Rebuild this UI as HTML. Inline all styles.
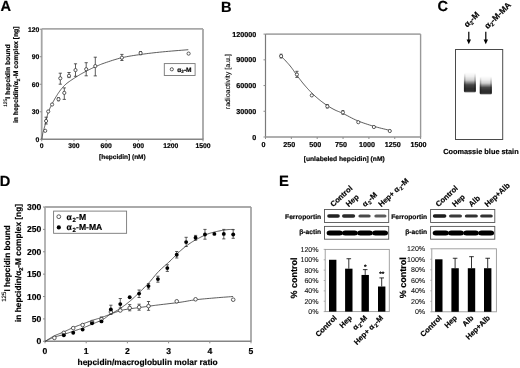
<!DOCTYPE html>
<html><head><meta charset="utf-8"><style>
html,body{margin:0;padding:0;background:#fff;}
svg{display:block;font-family:'Liberation Sans', sans-serif;text-rendering:geometricPrecision;filter:blur(0.3px);}
text{stroke:#000;stroke-width:0.18px;}
text.reg{stroke:#000;stroke-width:0.1px;}
</style></head><body>
<svg width="520" height="368" viewBox="0 0 520 368">
<defs><filter id="b05" x="-20%" y="-50%" width="140%" height="200%"><feGaussianBlur stdDeviation="0.5"/></filter>
<filter id="b07" x="-20%" y="-20%" width="140%" height="140%"><feGaussianBlur stdDeviation="0.7"/></filter></defs>
<rect width="520" height="368" fill="#fff"/>
<text x="0.60" y="10.50" font-size="14.6" font-weight="bold" text-anchor="start" fill="#000">A</text>
<line x1="41.70" y1="28.90" x2="203.00" y2="28.90" stroke="#a8a8a8" stroke-width="1.8"/>
<line x1="41.70" y1="28.90" x2="41.70" y2="139.30" stroke="#a5a5a5" stroke-width="1.8"/>
<line x1="203.00" y1="28.90" x2="203.00" y2="139.30" stroke="#a5a5a5" stroke-width="1.8"/>
<line x1="41.20" y1="139.30" x2="203.50" y2="139.30" stroke="#858585" stroke-width="1.4"/>
<line x1="39.70" y1="139.30" x2="41.70" y2="139.30" stroke="#8c8c8c" stroke-width="1.0"/>
<text x="39.40" y="141.70" font-size="6.8" font-weight="bold" text-anchor="end" fill="#000">0</text>
<line x1="39.70" y1="111.78" x2="41.70" y2="111.78" stroke="#8c8c8c" stroke-width="1.0"/>
<text x="39.40" y="114.18" font-size="6.8" font-weight="bold" text-anchor="end" fill="#000">30</text>
<line x1="39.70" y1="84.25" x2="41.70" y2="84.25" stroke="#8c8c8c" stroke-width="1.0"/>
<text x="39.40" y="86.65" font-size="6.8" font-weight="bold" text-anchor="end" fill="#000">60</text>
<line x1="39.70" y1="56.73" x2="41.70" y2="56.73" stroke="#8c8c8c" stroke-width="1.0"/>
<text x="39.40" y="59.13" font-size="6.8" font-weight="bold" text-anchor="end" fill="#000">90</text>
<line x1="39.70" y1="29.20" x2="41.70" y2="29.20" stroke="#8c8c8c" stroke-width="1.0"/>
<text x="39.40" y="31.60" font-size="6.8" font-weight="bold" text-anchor="end" fill="#000">120</text>
<line x1="41.70" y1="139.30" x2="41.70" y2="141.30" stroke="#8c8c8c" stroke-width="1.0"/>
<text x="41.70" y="148.40" font-size="6.8" font-weight="bold" text-anchor="middle" fill="#000">0</text>
<line x1="73.96" y1="139.30" x2="73.96" y2="141.30" stroke="#8c8c8c" stroke-width="1.0"/>
<text x="73.96" y="148.40" font-size="6.8" font-weight="bold" text-anchor="middle" fill="#000">300</text>
<line x1="106.22" y1="139.30" x2="106.22" y2="141.30" stroke="#8c8c8c" stroke-width="1.0"/>
<text x="106.22" y="148.40" font-size="6.8" font-weight="bold" text-anchor="middle" fill="#000">600</text>
<line x1="138.48" y1="139.30" x2="138.48" y2="141.30" stroke="#8c8c8c" stroke-width="1.0"/>
<text x="138.48" y="148.40" font-size="6.8" font-weight="bold" text-anchor="middle" fill="#000">900</text>
<line x1="170.74" y1="139.30" x2="170.74" y2="141.30" stroke="#8c8c8c" stroke-width="1.0"/>
<text x="170.74" y="148.40" font-size="6.8" font-weight="bold" text-anchor="middle" fill="#000">1200</text>
<line x1="203.00" y1="139.30" x2="203.00" y2="141.30" stroke="#8c8c8c" stroke-width="1.0"/>
<text x="203.00" y="148.40" font-size="6.8" font-weight="bold" text-anchor="middle" fill="#000">1500</text>
<text x="122.40" y="159.20" font-size="6.5" font-weight="bold" text-anchor="middle" fill="#000">[hepcidin] (nM)</text>
<text transform="translate(9.9 75.6) rotate(-90)" font-size="6.8" font-weight="bold" text-anchor="middle"><tspan font-size="4.9" font-weight="normal" dy="-3.0" style="stroke-width:0.1px">125</tspan><tspan dy="3.0">I hepcidin bound</tspan></text>
<text transform="translate(18.3 74.8) rotate(-90)" font-size="6.8" font-weight="bold" text-anchor="middle">in hepcidin/α<tspan font-size="4.6" dy="1.6">2</tspan><tspan dy="-1.6">-M complex [ng]</tspan></text>
<polyline points="41.80,139.20 41.95,138.36 42.08,137.53 42.22,136.69 42.36,135.86 42.50,135.02 42.65,134.18 42.82,133.34 43.00,132.50 43.19,131.70 43.39,130.95 43.60,130.23 43.82,129.50 44.05,128.72 44.31,127.85 44.59,126.85 44.90,125.70 45.24,124.34 45.61,122.77 46.00,121.06 46.42,119.28 46.85,117.48 47.29,115.73 47.74,114.08 48.20,112.60 48.67,111.28 49.15,110.04 49.64,108.89 50.15,107.79 50.66,106.74 51.18,105.72 51.69,104.71 52.20,103.70 52.70,102.70 53.20,101.74 53.70,100.80 54.19,99.89 54.70,98.99 55.22,98.09 55.75,97.20 56.30,96.30 56.87,95.39 57.45,94.48 58.04,93.56 58.65,92.66 59.27,91.76 59.90,90.88 60.54,90.03 61.20,89.20 61.84,88.41 62.46,87.67 63.08,86.95 63.71,86.24 64.39,85.54 65.13,84.82 65.96,84.08 66.90,83.30 67.98,82.46 69.19,81.58 70.49,80.67 71.86,79.74 73.25,78.83 74.62,77.94 75.95,77.09 77.20,76.30 78.37,75.58 79.50,74.90 80.60,74.25 81.68,73.64 82.75,73.04 83.82,72.46 84.90,71.88 86.00,71.30 87.11,70.72 88.22,70.15 89.33,69.58 90.45,69.03 91.57,68.49 92.70,67.95 93.84,67.42 95.00,66.90 96.12,66.40 97.18,65.92 98.22,65.46 99.28,65.01 100.41,64.54 101.64,64.06 103.03,63.55 104.60,63.00 106.38,62.39 108.34,61.73 110.44,61.03 112.64,60.31 114.93,59.60 117.25,58.92 119.59,58.28 121.90,57.70 124.20,57.19 126.54,56.72 128.91,56.28 131.31,55.88 133.74,55.49 136.20,55.12 138.69,54.76 141.20,54.40 143.72,54.05 146.23,53.71 148.77,53.39 151.33,53.08 153.95,52.78 156.64,52.49 159.42,52.19 162.30,51.90 165.32,51.61 168.46,51.33 171.69,51.05 174.99,50.78 178.33,50.51 181.69,50.24 185.02,49.97 188.30,49.70" fill="none" stroke="#333" stroke-width="0.8" stroke-linejoin="round"/>
<line x1="140.60" y1="51.50" x2="140.60" y2="54.70" stroke="#333" stroke-width="0.8"/>
<line x1="139.20" y1="51.50" x2="142.00" y2="51.50" stroke="#333" stroke-width="0.8"/>
<line x1="139.20" y1="54.70" x2="142.00" y2="54.70" stroke="#333" stroke-width="0.8"/>
<line x1="58.50" y1="97.60" x2="58.50" y2="100.80" stroke="#333" stroke-width="0.8"/>
<line x1="57.10" y1="97.60" x2="59.90" y2="97.60" stroke="#333" stroke-width="0.8"/>
<line x1="57.10" y1="100.80" x2="59.90" y2="100.80" stroke="#333" stroke-width="0.8"/>
<line x1="46.10" y1="117.20" x2="46.10" y2="124.00" stroke="#333" stroke-width="0.8"/>
<line x1="44.50" y1="117.20" x2="47.70" y2="117.20" stroke="#333" stroke-width="0.8"/>
<line x1="44.50" y1="124.00" x2="47.70" y2="124.00" stroke="#333" stroke-width="0.8"/>
<line x1="64.30" y1="87.90" x2="64.30" y2="99.40" stroke="#333" stroke-width="0.8"/>
<line x1="62.70" y1="87.90" x2="65.90" y2="87.90" stroke="#333" stroke-width="0.8"/>
<line x1="62.70" y1="99.40" x2="65.90" y2="99.40" stroke="#333" stroke-width="0.8"/>
<line x1="60.30" y1="73.20" x2="60.30" y2="84.20" stroke="#333" stroke-width="0.8"/>
<line x1="58.70" y1="73.20" x2="61.90" y2="73.20" stroke="#333" stroke-width="0.8"/>
<line x1="58.70" y1="84.20" x2="61.90" y2="84.20" stroke="#333" stroke-width="0.8"/>
<line x1="69.00" y1="72.50" x2="69.00" y2="77.60" stroke="#333" stroke-width="0.8"/>
<line x1="67.40" y1="72.50" x2="70.60" y2="72.50" stroke="#333" stroke-width="0.8"/>
<line x1="67.40" y1="77.60" x2="70.60" y2="77.60" stroke="#333" stroke-width="0.8"/>
<line x1="75.50" y1="63.80" x2="75.50" y2="76.30" stroke="#333" stroke-width="0.8"/>
<line x1="73.90" y1="63.80" x2="77.10" y2="63.80" stroke="#333" stroke-width="0.8"/>
<line x1="73.90" y1="76.30" x2="77.10" y2="76.30" stroke="#333" stroke-width="0.8"/>
<line x1="86.20" y1="62.70" x2="86.20" y2="75.80" stroke="#333" stroke-width="0.8"/>
<line x1="84.60" y1="62.70" x2="87.80" y2="62.70" stroke="#333" stroke-width="0.8"/>
<line x1="84.60" y1="75.80" x2="87.80" y2="75.80" stroke="#333" stroke-width="0.8"/>
<line x1="95.30" y1="57.20" x2="95.30" y2="75.90" stroke="#333" stroke-width="0.8"/>
<line x1="93.70" y1="57.20" x2="96.90" y2="57.20" stroke="#333" stroke-width="0.8"/>
<line x1="93.70" y1="75.90" x2="96.90" y2="75.90" stroke="#333" stroke-width="0.8"/>
<line x1="121.90" y1="54.40" x2="121.90" y2="60.50" stroke="#333" stroke-width="0.8"/>
<line x1="120.30" y1="54.40" x2="123.50" y2="54.40" stroke="#333" stroke-width="0.8"/>
<line x1="120.30" y1="60.50" x2="123.50" y2="60.50" stroke="#333" stroke-width="0.8"/>
<circle cx="45.20" cy="130.80" r="1.6" fill="#fff" stroke="#333" stroke-width="0.8"/>
<circle cx="46.10" cy="121.00" r="1.6" fill="#fff" stroke="#333" stroke-width="0.8"/>
<circle cx="48.20" cy="111.50" r="1.6" fill="#fff" stroke="#333" stroke-width="0.8"/>
<circle cx="52.10" cy="104.50" r="1.6" fill="#fff" stroke="#333" stroke-width="0.8"/>
<circle cx="58.50" cy="99.20" r="1.6" fill="#fff" stroke="#333" stroke-width="0.8"/>
<circle cx="64.30" cy="92.90" r="1.6" fill="#fff" stroke="#333" stroke-width="0.8"/>
<circle cx="60.30" cy="78.30" r="1.6" fill="#fff" stroke="#333" stroke-width="0.8"/>
<circle cx="69.00" cy="75.80" r="1.6" fill="#fff" stroke="#333" stroke-width="0.8"/>
<circle cx="75.50" cy="70.10" r="1.6" fill="#fff" stroke="#333" stroke-width="0.8"/>
<circle cx="86.20" cy="69.20" r="1.6" fill="#fff" stroke="#333" stroke-width="0.8"/>
<circle cx="95.30" cy="66.10" r="1.6" fill="#fff" stroke="#333" stroke-width="0.8"/>
<circle cx="121.90" cy="57.70" r="1.6" fill="#fff" stroke="#333" stroke-width="0.8"/>
<circle cx="140.60" cy="53.10" r="1.6" fill="#fff" stroke="#333" stroke-width="0.8"/>
<circle cx="188.60" cy="53.60" r="1.6" fill="#fff" stroke="#333" stroke-width="0.8"/>
<rect x="164.30" y="63.60" width="30.80" height="11.90" stroke="#777" stroke-width="0.9" fill="none"/>
<circle cx="171.80" cy="69.30" r="1.6" fill="#fff" stroke="#333" stroke-width="0.8"/>
<text x="177.3" y="71.8" font-size="6.6" font-weight="bold">α<tspan font-size="4.6" dy="1.5">2</tspan><tspan dy="-1.5">-M</tspan></text>
<text x="221.00" y="11.50" font-size="14.6" font-weight="bold" text-anchor="start" fill="#000">B</text>
<line x1="265.50" y1="34.10" x2="420.60" y2="34.10" stroke="#aaa" stroke-width="1.8"/>
<line x1="265.50" y1="34.10" x2="265.50" y2="137.00" stroke="#7a7a7a" stroke-width="1.2"/>
<line x1="420.60" y1="34.10" x2="420.60" y2="137.00" stroke="#999" stroke-width="1.4"/>
<line x1="265.00" y1="137.00" x2="421.10" y2="137.00" stroke="#959595" stroke-width="1.4"/>
<line x1="263.50" y1="137.00" x2="265.50" y2="137.00" stroke="#8c8c8c" stroke-width="1.0"/>
<text x="256.30" y="139.50" font-size="7.2" font-weight="bold" text-anchor="end" fill="#000">0</text>
<line x1="263.50" y1="111.28" x2="265.50" y2="111.28" stroke="#8c8c8c" stroke-width="1.0"/>
<text x="256.30" y="113.78" font-size="7.2" font-weight="bold" text-anchor="end" fill="#000">30000</text>
<line x1="263.50" y1="85.55" x2="265.50" y2="85.55" stroke="#8c8c8c" stroke-width="1.0"/>
<text x="256.30" y="88.05" font-size="7.2" font-weight="bold" text-anchor="end" fill="#000">60000</text>
<line x1="263.50" y1="59.83" x2="265.50" y2="59.83" stroke="#8c8c8c" stroke-width="1.0"/>
<text x="256.30" y="62.33" font-size="7.2" font-weight="bold" text-anchor="end" fill="#000">90000</text>
<line x1="263.50" y1="34.10" x2="265.50" y2="34.10" stroke="#8c8c8c" stroke-width="1.0"/>
<text x="256.30" y="36.60" font-size="7.2" font-weight="bold" text-anchor="end" fill="#000">120000</text>
<line x1="265.50" y1="137.00" x2="265.50" y2="139.00" stroke="#8c8c8c" stroke-width="1.0"/>
<text x="263.50" y="146.70" font-size="7.2" font-weight="bold" text-anchor="middle" fill="#000">0</text>
<line x1="291.35" y1="137.00" x2="291.35" y2="139.00" stroke="#8c8c8c" stroke-width="1.0"/>
<text x="289.35" y="146.70" font-size="7.2" font-weight="bold" text-anchor="middle" fill="#000">250</text>
<line x1="317.20" y1="137.00" x2="317.20" y2="139.00" stroke="#8c8c8c" stroke-width="1.0"/>
<text x="315.20" y="146.70" font-size="7.2" font-weight="bold" text-anchor="middle" fill="#000">500</text>
<line x1="343.05" y1="137.00" x2="343.05" y2="139.00" stroke="#8c8c8c" stroke-width="1.0"/>
<text x="341.05" y="146.70" font-size="7.2" font-weight="bold" text-anchor="middle" fill="#000">750</text>
<line x1="368.90" y1="137.00" x2="368.90" y2="139.00" stroke="#8c8c8c" stroke-width="1.0"/>
<text x="366.90" y="146.70" font-size="7.2" font-weight="bold" text-anchor="middle" fill="#000">1000</text>
<line x1="394.75" y1="137.00" x2="394.75" y2="139.00" stroke="#8c8c8c" stroke-width="1.0"/>
<text x="392.75" y="146.70" font-size="7.2" font-weight="bold" text-anchor="middle" fill="#000">1250</text>
<line x1="420.60" y1="137.00" x2="420.60" y2="139.00" stroke="#8c8c8c" stroke-width="1.0"/>
<text x="418.60" y="146.70" font-size="7.2" font-weight="bold" text-anchor="middle" fill="#000">1500</text>
<text x="344.20" y="160.50" font-size="6.7" font-weight="bold" text-anchor="middle" fill="#000">[unlabeled hepcidin] (nM)</text>
<text class="reg" transform="translate(230.2 81.6) rotate(-90)" font-size="7.1" text-anchor="middle">radioactivity [a.u.]</text>
<polyline points="281.10,56.00 282.25,57.25 283.43,58.52 284.62,59.78 285.80,61.04 286.96,62.30 288.09,63.55 289.18,64.78 290.20,66.00 291.15,67.20 292.04,68.39 292.89,69.57 293.70,70.73 294.49,71.89 295.28,73.03 296.08,74.17 296.90,75.30 297.73,76.42 298.55,77.52 299.37,78.62 300.19,79.71 301.02,80.79 301.86,81.86 302.72,82.93 303.60,84.00 304.51,85.07 305.44,86.16 306.38,87.24 307.34,88.31 308.31,89.37 309.28,90.41 310.24,91.42 311.20,92.40 312.15,93.34 313.09,94.25 314.02,95.13 314.96,95.99 315.91,96.84 316.86,97.67 317.82,98.49 318.80,99.30 319.80,100.11 320.81,100.92 321.84,101.71 322.88,102.49 323.91,103.26 324.95,104.00 325.98,104.71 327.00,105.40 328.01,106.05 329.02,106.68 330.02,107.29 331.02,107.87 332.02,108.43 333.01,108.97 334.01,109.49 335.00,110.00 335.95,110.46 336.83,110.85 337.69,111.20 338.56,111.54 339.47,111.90 340.48,112.31 341.61,112.80 342.90,113.40 344.37,114.13 345.98,114.97 347.71,115.89 349.52,116.86 351.41,117.85 353.33,118.82 355.27,119.75 357.20,120.60 359.14,121.39 361.13,122.15 363.17,122.88 365.23,123.59 367.30,124.27 369.38,124.94 371.45,125.58 373.50,126.20 375.54,126.79 377.57,127.35 379.61,127.88 381.65,128.39 383.69,128.89 385.73,129.38 387.76,129.88 389.80,130.40" fill="none" stroke="#333" stroke-width="0.8" stroke-linejoin="round"/>
<line x1="296.90" y1="71.30" x2="296.90" y2="77.40" stroke="#333" stroke-width="0.8"/>
<line x1="295.30" y1="71.30" x2="298.50" y2="71.30" stroke="#333" stroke-width="0.8"/>
<line x1="295.30" y1="77.40" x2="298.50" y2="77.40" stroke="#333" stroke-width="0.8"/>
<line x1="281.10" y1="54.20" x2="281.10" y2="58.00" stroke="#333" stroke-width="0.8"/>
<line x1="279.70" y1="54.20" x2="282.50" y2="54.20" stroke="#333" stroke-width="0.8"/>
<line x1="279.70" y1="58.00" x2="282.50" y2="58.00" stroke="#333" stroke-width="0.8"/>
<line x1="342.90" y1="110.60" x2="342.90" y2="114.20" stroke="#333" stroke-width="0.8"/>
<line x1="341.50" y1="110.60" x2="344.30" y2="110.60" stroke="#333" stroke-width="0.8"/>
<line x1="341.50" y1="114.20" x2="344.30" y2="114.20" stroke="#333" stroke-width="0.8"/>
<line x1="327.30" y1="104.60" x2="327.30" y2="108.00" stroke="#333" stroke-width="0.8"/>
<line x1="325.90" y1="104.60" x2="328.70" y2="104.60" stroke="#333" stroke-width="0.8"/>
<line x1="325.90" y1="108.00" x2="328.70" y2="108.00" stroke="#333" stroke-width="0.8"/>
<circle cx="281.10" cy="56.10" r="1.6" fill="#fff" stroke="#333" stroke-width="0.8"/>
<circle cx="296.90" cy="74.50" r="1.6" fill="#fff" stroke="#333" stroke-width="0.8"/>
<circle cx="311.80" cy="95.40" r="1.6" fill="#fff" stroke="#333" stroke-width="0.8"/>
<circle cx="327.30" cy="106.30" r="1.6" fill="#fff" stroke="#333" stroke-width="0.8"/>
<circle cx="342.90" cy="112.40" r="1.6" fill="#fff" stroke="#333" stroke-width="0.8"/>
<circle cx="358.30" cy="122.20" r="1.6" fill="#fff" stroke="#333" stroke-width="0.8"/>
<circle cx="373.90" cy="127.00" r="1.6" fill="#fff" stroke="#333" stroke-width="0.8"/>
<circle cx="389.80" cy="131.00" r="1.6" fill="#fff" stroke="#333" stroke-width="0.8"/>
<text x="437.60" y="11.00" font-size="14.6" font-weight="bold" text-anchor="start" fill="#000">C</text>
<text transform="translate(467.2 27.8) rotate(-45)" font-size="8.4" font-weight="bold">α<tspan font-size="5.6" dy="1.7">2</tspan><tspan dy="-1.7">-M</tspan></text>
<text transform="translate(487.7 29.3) rotate(-45)" font-size="8.4" font-weight="bold">α<tspan font-size="5.6" dy="1.7">2</tspan><tspan dy="-1.7">-M-MA</tspan></text>
<line x1="468.80" y1="31.80" x2="468.80" y2="40.50" stroke="#000" stroke-width="1.2"/>
<path d="M466.60,39.5 L471.00,39.5 L468.80,44.2 Z" fill="#000"/>
<line x1="485.80" y1="31.80" x2="485.80" y2="40.50" stroke="#000" stroke-width="1.2"/>
<path d="M483.60,39.5 L488.00,39.5 L485.80,44.2 Z" fill="#000"/>
<rect x="455.50" y="49.50" width="47.20" height="90.00" stroke="#4a4a4a" stroke-width="1.0" fill="none"/>
<text x="480.90" y="154.30" font-size="7.35" font-weight="bold" text-anchor="middle" fill="#000">Coomassie blue stain</text>
<text x="-0.30" y="186.00" font-size="14.6" font-weight="bold" text-anchor="start" fill="#000">D</text>
<line x1="45.00" y1="207.00" x2="251.00" y2="207.00" stroke="#aaa" stroke-width="1.8"/>
<line x1="45.00" y1="207.00" x2="45.00" y2="341.30" stroke="#a8a8a8" stroke-width="1.7"/>
<line x1="251.00" y1="207.00" x2="251.00" y2="341.30" stroke="#9a9a9a" stroke-width="1.6"/>
<line x1="44.50" y1="341.30" x2="251.50" y2="341.30" stroke="#858585" stroke-width="1.4"/>
<line x1="43.00" y1="341.30" x2="45.00" y2="341.30" stroke="#8c8c8c" stroke-width="1.0"/>
<text x="41.40" y="344.40" font-size="8.6" font-weight="bold" text-anchor="end" fill="#000">0</text>
<line x1="43.00" y1="318.92" x2="45.00" y2="318.92" stroke="#8c8c8c" stroke-width="1.0"/>
<text x="41.40" y="322.02" font-size="8.6" font-weight="bold" text-anchor="end" fill="#000">50</text>
<line x1="43.00" y1="296.53" x2="45.00" y2="296.53" stroke="#8c8c8c" stroke-width="1.0"/>
<text x="41.40" y="299.63" font-size="8.6" font-weight="bold" text-anchor="end" fill="#000">100</text>
<line x1="43.00" y1="274.15" x2="45.00" y2="274.15" stroke="#8c8c8c" stroke-width="1.0"/>
<text x="41.40" y="277.25" font-size="8.6" font-weight="bold" text-anchor="end" fill="#000">150</text>
<line x1="43.00" y1="251.77" x2="45.00" y2="251.77" stroke="#8c8c8c" stroke-width="1.0"/>
<text x="41.40" y="254.87" font-size="8.6" font-weight="bold" text-anchor="end" fill="#000">200</text>
<line x1="43.00" y1="229.38" x2="45.00" y2="229.38" stroke="#8c8c8c" stroke-width="1.0"/>
<text x="41.40" y="232.48" font-size="8.6" font-weight="bold" text-anchor="end" fill="#000">250</text>
<line x1="43.00" y1="207.00" x2="45.00" y2="207.00" stroke="#8c8c8c" stroke-width="1.0"/>
<text x="41.40" y="210.10" font-size="8.6" font-weight="bold" text-anchor="end" fill="#000">300</text>
<line x1="45.00" y1="341.30" x2="45.00" y2="343.30" stroke="#8c8c8c" stroke-width="1.0"/>
<text x="45.00" y="353.50" font-size="8.6" font-weight="bold" text-anchor="middle" fill="#000">0</text>
<line x1="86.20" y1="341.30" x2="86.20" y2="343.30" stroke="#8c8c8c" stroke-width="1.0"/>
<text x="86.20" y="353.50" font-size="8.6" font-weight="bold" text-anchor="middle" fill="#000">1</text>
<line x1="127.40" y1="341.30" x2="127.40" y2="343.30" stroke="#8c8c8c" stroke-width="1.0"/>
<text x="127.40" y="353.50" font-size="8.6" font-weight="bold" text-anchor="middle" fill="#000">2</text>
<line x1="168.60" y1="341.30" x2="168.60" y2="343.30" stroke="#8c8c8c" stroke-width="1.0"/>
<text x="168.60" y="353.50" font-size="8.6" font-weight="bold" text-anchor="middle" fill="#000">3</text>
<line x1="209.80" y1="341.30" x2="209.80" y2="343.30" stroke="#8c8c8c" stroke-width="1.0"/>
<text x="209.80" y="353.50" font-size="8.6" font-weight="bold" text-anchor="middle" fill="#000">4</text>
<line x1="251.00" y1="341.30" x2="251.00" y2="343.30" stroke="#8c8c8c" stroke-width="1.0"/>
<text x="251.00" y="353.50" font-size="8.6" font-weight="bold" text-anchor="middle" fill="#000">5</text>
<text x="147.60" y="365.30" font-size="8.4" font-weight="bold" text-anchor="middle" fill="#000">hepcidin/macroglobulin molar ratio</text>
<text transform="translate(10.2 263.5) rotate(-90)" font-size="8.3" font-weight="bold" text-anchor="middle"><tspan font-size="6.2" font-weight="normal" dy="-3.8" style="stroke-width:0.1px">125</tspan><tspan dy="3.8">I hepcidin bound</tspan></text>
<text transform="translate(21.0 263) rotate(-90)" font-size="8.3" font-weight="bold" text-anchor="middle">in hepcidin/α<tspan font-size="5.6" dy="2">2</tspan><tspan dy="-2">-M complex [ng]</tspan></text>
<polyline points="45.20,341.30 46.27,340.64 47.32,339.97 48.37,339.30 49.43,338.63 50.49,337.97 51.57,337.32 52.67,336.70 53.80,336.10 54.97,335.54 56.17,335.01 57.39,334.50 58.63,334.01 59.88,333.52 61.13,333.03 62.37,332.52 63.60,332.00 64.82,331.45 66.03,330.88 67.24,330.31 68.45,329.73 69.66,329.15 70.87,328.58 72.08,328.03 73.30,327.50 74.52,327.00 75.74,326.52 76.97,326.05 78.19,325.59 79.42,325.15 80.65,324.70 81.87,324.25 83.10,323.80 84.32,323.34 85.55,322.88 86.77,322.42 88.00,321.96 89.23,321.51 90.45,321.06 91.67,320.63 92.90,320.20 94.08,319.81 95.18,319.46 96.26,319.14 97.36,318.81 98.50,318.47 99.75,318.08 101.14,317.63 102.70,317.10 104.52,316.44 106.59,315.67 108.83,314.82 111.15,313.93 113.47,313.05 115.71,312.23 117.78,311.50 119.60,310.90 121.16,310.44 122.55,310.09 123.80,309.81 124.94,309.59 126.04,309.41 127.12,309.25 128.22,309.09 129.40,308.90 130.63,308.70 131.85,308.53 133.08,308.37 134.31,308.21 135.53,308.06 136.76,307.92 137.98,307.76 139.20,307.60 140.42,307.43 141.63,307.25 142.84,307.08 144.05,306.90 145.26,306.72 146.47,306.55 147.68,306.37 148.90,306.20 150.04,306.04 151.07,305.90 152.06,305.76 153.08,305.62 154.18,305.48 155.44,305.31 156.92,305.12 158.70,304.90 160.85,304.64 163.35,304.34 166.10,304.02 169.00,303.67 171.94,303.32 174.82,302.97 177.54,302.63 180.00,302.30 182.19,301.98 184.19,301.65 186.07,301.32 187.87,301.00 189.65,300.68 191.46,300.37 193.36,300.08 195.40,299.80 197.57,299.54 199.81,299.29 202.12,299.06 204.47,298.84 206.85,298.62 209.24,298.41 211.63,298.21 214.00,298.00 216.36,297.80 218.74,297.60 221.13,297.42 223.52,297.23 225.92,297.05 228.31,296.87 230.71,296.69 233.10,296.50" fill="none" stroke="#333" stroke-width="0.8" stroke-linejoin="round"/>
<polyline points="45.20,341.30 46.27,340.79 47.32,340.27 48.37,339.75 49.43,339.23 50.49,338.71 51.57,338.22 52.67,337.74 53.80,337.30 54.97,336.90 56.17,336.53 57.39,336.18 58.63,335.86 59.88,335.53 61.13,335.21 62.37,334.87 63.60,334.50 64.82,334.11 66.03,333.71 67.24,333.30 68.45,332.88 69.66,332.46 70.87,332.04 72.08,331.62 73.30,331.20 74.52,330.79 75.74,330.39 76.97,330.00 78.19,329.60 79.42,329.20 80.65,328.78 81.87,328.35 83.10,327.90 84.32,327.43 85.55,326.93 86.77,326.43 88.00,325.91 89.23,325.38 90.45,324.85 91.67,324.32 92.90,323.80 94.14,323.29 95.41,322.78 96.69,322.27 97.97,321.76 99.22,321.24 100.44,320.71 101.60,320.16 102.70,319.60 103.70,319.02 104.60,318.42 105.44,317.81 106.25,317.19 107.06,316.56 107.90,315.92 108.80,315.26 109.80,314.60 110.90,313.93 112.06,313.26 113.28,312.58 114.53,311.89 115.81,311.19 117.09,310.45 118.36,309.69 119.60,308.90 120.82,308.08 122.05,307.23 123.27,306.35 124.50,305.46 125.72,304.53 126.95,303.58 128.18,302.60 129.40,301.60 130.63,300.56 131.85,299.49 133.08,298.38 134.31,297.26 135.53,296.11 136.76,294.95 137.98,293.77 139.20,292.60 140.42,291.42 141.63,290.24 142.84,289.05 144.05,287.85 145.26,286.63 146.47,285.38 147.68,284.11 148.90,282.80 150.11,281.44 151.31,280.04 152.50,278.59 153.70,277.13 154.91,275.66 156.14,274.21 157.40,272.78 158.70,271.40 160.05,270.05 161.46,268.73 162.91,267.42 164.37,266.13 165.83,264.86 167.27,263.59 168.66,262.34 170.00,261.10 171.27,259.86 172.50,258.62 173.69,257.40 174.86,256.18 176.02,254.99 177.17,253.82 178.32,252.69 179.50,251.60 180.69,250.55 181.88,249.52 183.06,248.53 184.25,247.56 185.44,246.63 186.62,245.72 187.81,244.85 189.00,244.00 190.19,243.19 191.38,242.41 192.56,241.67 193.75,240.95 194.94,240.26 196.12,239.59 197.31,238.94 198.50,238.30 199.69,237.68 200.87,237.07 202.06,236.48 203.24,235.91 204.43,235.36 205.62,234.84 206.81,234.35 208.00,233.90 209.20,233.48 210.40,233.10 211.60,232.75 212.80,232.43 214.00,232.12 215.20,231.84 216.40,231.56 217.60,231.30 218.81,231.04 220.05,230.80 221.30,230.57 222.54,230.36 223.75,230.16 224.93,229.99 226.05,229.83 227.10,229.70 228.06,229.60 228.95,229.53 229.79,229.49 230.58,229.47 231.35,229.46 232.12,229.44 232.89,229.43 233.70,229.40" fill="none" stroke="#333" stroke-width="0.8" stroke-linejoin="round"/>
<line x1="129.69" y1="304.60" x2="129.69" y2="310.80" stroke="#333" stroke-width="0.8"/>
<line x1="128.09" y1="304.60" x2="131.29" y2="304.60" stroke="#333" stroke-width="0.8"/>
<line x1="128.09" y1="310.80" x2="131.29" y2="310.80" stroke="#333" stroke-width="0.8"/>
<line x1="139.10" y1="304.20" x2="139.10" y2="310.20" stroke="#333" stroke-width="0.8"/>
<line x1="137.50" y1="304.20" x2="140.70" y2="304.20" stroke="#333" stroke-width="0.8"/>
<line x1="137.50" y1="310.20" x2="140.70" y2="310.20" stroke="#333" stroke-width="0.8"/>
<line x1="148.51" y1="301.50" x2="148.51" y2="310.30" stroke="#333" stroke-width="0.8"/>
<line x1="146.91" y1="301.50" x2="150.11" y2="301.50" stroke="#333" stroke-width="0.8"/>
<line x1="146.91" y1="310.30" x2="150.11" y2="310.30" stroke="#333" stroke-width="0.8"/>
<line x1="101.46" y1="317.00" x2="101.46" y2="322.00" stroke="#333" stroke-width="0.8"/>
<line x1="99.86" y1="317.00" x2="103.06" y2="317.00" stroke="#333" stroke-width="0.8"/>
<line x1="99.86" y1="322.00" x2="103.06" y2="322.00" stroke="#333" stroke-width="0.8"/>
<line x1="110.87" y1="305.20" x2="110.87" y2="314.50" stroke="#333" stroke-width="0.8"/>
<line x1="109.27" y1="305.20" x2="112.47" y2="305.20" stroke="#333" stroke-width="0.8"/>
<line x1="109.27" y1="314.50" x2="112.47" y2="314.50" stroke="#333" stroke-width="0.8"/>
<line x1="120.28" y1="298.50" x2="120.28" y2="308.00" stroke="#333" stroke-width="0.8"/>
<line x1="118.68" y1="298.50" x2="121.88" y2="298.50" stroke="#333" stroke-width="0.8"/>
<line x1="118.68" y1="308.00" x2="121.88" y2="308.00" stroke="#333" stroke-width="0.8"/>
<line x1="139.10" y1="290.00" x2="139.10" y2="297.50" stroke="#333" stroke-width="0.8"/>
<line x1="137.50" y1="290.00" x2="140.70" y2="290.00" stroke="#333" stroke-width="0.8"/>
<line x1="137.50" y1="297.50" x2="140.70" y2="297.50" stroke="#333" stroke-width="0.8"/>
<line x1="148.51" y1="283.60" x2="148.51" y2="289.00" stroke="#333" stroke-width="0.8"/>
<line x1="146.91" y1="283.60" x2="150.11" y2="283.60" stroke="#333" stroke-width="0.8"/>
<line x1="146.91" y1="289.00" x2="150.11" y2="289.00" stroke="#333" stroke-width="0.8"/>
<line x1="157.92" y1="276.20" x2="157.92" y2="282.20" stroke="#333" stroke-width="0.8"/>
<line x1="156.32" y1="276.20" x2="159.52" y2="276.20" stroke="#333" stroke-width="0.8"/>
<line x1="156.32" y1="282.20" x2="159.52" y2="282.20" stroke="#333" stroke-width="0.8"/>
<line x1="167.33" y1="264.80" x2="167.33" y2="271.40" stroke="#333" stroke-width="0.8"/>
<line x1="165.73" y1="264.80" x2="168.93" y2="264.80" stroke="#333" stroke-width="0.8"/>
<line x1="165.73" y1="271.40" x2="168.93" y2="271.40" stroke="#333" stroke-width="0.8"/>
<line x1="176.74" y1="251.50" x2="176.74" y2="258.00" stroke="#333" stroke-width="0.8"/>
<line x1="175.14" y1="251.50" x2="178.34" y2="251.50" stroke="#333" stroke-width="0.8"/>
<line x1="175.14" y1="258.00" x2="178.34" y2="258.00" stroke="#333" stroke-width="0.8"/>
<line x1="186.15" y1="237.30" x2="186.15" y2="246.50" stroke="#333" stroke-width="0.8"/>
<line x1="184.55" y1="237.30" x2="187.75" y2="237.30" stroke="#333" stroke-width="0.8"/>
<line x1="184.55" y1="246.50" x2="187.75" y2="246.50" stroke="#333" stroke-width="0.8"/>
<line x1="195.56" y1="235.40" x2="195.56" y2="240.20" stroke="#333" stroke-width="0.8"/>
<line x1="193.96" y1="235.40" x2="197.16" y2="235.40" stroke="#333" stroke-width="0.8"/>
<line x1="193.96" y1="240.20" x2="197.16" y2="240.20" stroke="#333" stroke-width="0.8"/>
<line x1="204.97" y1="229.40" x2="204.97" y2="239.20" stroke="#333" stroke-width="0.8"/>
<line x1="203.37" y1="229.40" x2="206.57" y2="229.40" stroke="#333" stroke-width="0.8"/>
<line x1="203.37" y1="239.20" x2="206.57" y2="239.20" stroke="#333" stroke-width="0.8"/>
<line x1="223.79" y1="229.40" x2="223.79" y2="238.90" stroke="#333" stroke-width="0.8"/>
<line x1="222.19" y1="229.40" x2="225.39" y2="229.40" stroke="#333" stroke-width="0.8"/>
<line x1="222.19" y1="238.90" x2="225.39" y2="238.90" stroke="#333" stroke-width="0.8"/>
<line x1="233.20" y1="229.70" x2="233.20" y2="238.30" stroke="#333" stroke-width="0.8"/>
<line x1="231.60" y1="229.70" x2="234.80" y2="229.70" stroke="#333" stroke-width="0.8"/>
<line x1="231.60" y1="238.30" x2="234.80" y2="238.30" stroke="#333" stroke-width="0.8"/>
<circle cx="54.41" cy="337.90" r="1.8" fill="#fff" stroke="#333" stroke-width="0.8"/>
<circle cx="63.82" cy="332.80" r="1.8" fill="#fff" stroke="#333" stroke-width="0.8"/>
<circle cx="73.23" cy="328.10" r="1.8" fill="#fff" stroke="#333" stroke-width="0.8"/>
<circle cx="82.64" cy="325.00" r="1.8" fill="#fff" stroke="#333" stroke-width="0.8"/>
<circle cx="92.05" cy="322.00" r="1.8" fill="#fff" stroke="#333" stroke-width="0.8"/>
<circle cx="101.46" cy="319.20" r="1.8" fill="#fff" stroke="#333" stroke-width="0.8"/>
<circle cx="110.87" cy="312.00" r="1.8" fill="#fff" stroke="#333" stroke-width="0.8"/>
<circle cx="120.28" cy="310.50" r="1.8" fill="#fff" stroke="#333" stroke-width="0.8"/>
<circle cx="129.69" cy="308.00" r="1.8" fill="#fff" stroke="#333" stroke-width="0.8"/>
<circle cx="139.10" cy="307.20" r="1.8" fill="#fff" stroke="#333" stroke-width="0.8"/>
<circle cx="148.51" cy="306.10" r="1.8" fill="#fff" stroke="#333" stroke-width="0.8"/>
<circle cx="176.74" cy="301.30" r="1.8" fill="#fff" stroke="#333" stroke-width="0.8"/>
<circle cx="195.56" cy="299.30" r="1.8" fill="#fff" stroke="#333" stroke-width="0.8"/>
<circle cx="233.20" cy="299.70" r="1.8" fill="#fff" stroke="#333" stroke-width="0.8"/>
<circle cx="63.82" cy="335.30" r="1.95" fill="#000"/>
<circle cx="73.23" cy="332.80" r="1.95" fill="#000"/>
<circle cx="82.64" cy="329.60" r="1.95" fill="#000"/>
<circle cx="92.05" cy="323.20" r="1.95" fill="#000"/>
<circle cx="101.46" cy="321.40" r="1.95" fill="#000"/>
<circle cx="110.87" cy="309.50" r="1.95" fill="#000"/>
<circle cx="120.28" cy="304.10" r="1.95" fill="#000"/>
<circle cx="129.69" cy="297.20" r="1.95" fill="#000"/>
<circle cx="139.10" cy="293.60" r="1.95" fill="#000"/>
<circle cx="148.51" cy="286.10" r="1.95" fill="#000"/>
<circle cx="157.92" cy="279.10" r="1.95" fill="#000"/>
<circle cx="167.33" cy="268.10" r="1.95" fill="#000"/>
<circle cx="176.74" cy="254.80" r="1.95" fill="#000"/>
<circle cx="186.15" cy="242.10" r="1.95" fill="#000"/>
<circle cx="195.56" cy="237.70" r="1.95" fill="#000"/>
<circle cx="204.97" cy="234.50" r="1.95" fill="#000"/>
<circle cx="214.38" cy="233.90" r="1.95" fill="#000"/>
<circle cx="223.79" cy="233.90" r="1.95" fill="#000"/>
<circle cx="233.20" cy="234.50" r="1.95" fill="#000"/>
<rect x="53.60" y="211.10" width="73.00" height="22.20" stroke="#777" stroke-width="0.9" fill="none"/>
<circle cx="58.80" cy="216.70" r="1.9" fill="#fff" stroke="#333" stroke-width="0.8"/>
<circle cx="58.80" cy="227.40" r="2.1" fill="#000"/>
<text x="66.5" y="220.0" font-size="8.6" font-weight="bold">α<tspan font-size="6" dx="0.6" dy="1.8">2</tspan><tspan dx="0.3" dy="-1.8">-M</tspan></text>
<text x="66.5" y="230.0" font-size="8.6" font-weight="bold">α<tspan font-size="6" dx="0.6" dy="1.8">2</tspan><tspan dx="0.3" dy="-1.8">-M-MA</tspan></text>
<text x="279.00" y="186.20" font-size="14.8" font-weight="bold" text-anchor="start" fill="#000">E</text>
<rect x="327.20" y="214.20" width="12.60" height="3.6" rx="1.8" fill="#202020" filter="url(#b07)"/>
<rect x="342.00" y="214.30" width="13.20" height="3.4" rx="1.8" fill="#2a2a2a" filter="url(#b07)"/>
<rect x="358.40" y="214.40" width="12.30" height="3.2" rx="1.8" fill="#4a4a4a" filter="url(#b07)"/>
<rect x="374.30" y="214.50" width="12.20" height="3.0" rx="1.8" fill="#5c5c5c" filter="url(#b07)"/>
<rect x="326.60" y="230.5" width="16.20" height="5.1" rx="3.2" ry="2.5" fill="#000" filter="url(#b05)"/>
<rect x="342.00" y="230.5" width="15.80" height="5.1" rx="3.2" ry="2.5" fill="#000" filter="url(#b05)"/>
<rect x="357.20" y="230.5" width="15.60" height="5.1" rx="3.2" ry="2.5" fill="#000" filter="url(#b05)"/>
<rect x="372.20" y="230.5" width="15.80" height="5.1" rx="3.2" ry="2.5" fill="#000" filter="url(#b05)"/>
<rect x="324.50" y="209.50" width="64.20" height="13.00" stroke="#555" stroke-width="0.9" fill="none"/>
<rect x="324.50" y="226.40" width="64.20" height="12.80" stroke="#555" stroke-width="0.9" fill="none"/>
<text x="321.10" y="219.00" font-size="6.7" font-weight="bold" text-anchor="end" fill="#000">Ferroportin</text>
<text x="321.10" y="233.80" font-size="6.7" font-weight="bold" text-anchor="end" fill="#000">β-actin</text>
<rect x="432.80" y="214.30" width="13.60" height="3.4" rx="1.8" fill="#1c1c1c" filter="url(#b07)"/>
<rect x="449.00" y="214.50" width="13.00" height="3.0" rx="1.8" fill="#3a3a3a" filter="url(#b07)"/>
<rect x="464.80" y="214.40" width="13.10" height="3.2" rx="1.8" fill="#333" filter="url(#b07)"/>
<rect x="480.10" y="214.40" width="12.70" height="3.2" rx="1.8" fill="#333" filter="url(#b07)"/>
<rect x="432.70" y="230.5" width="16.20" height="5.1" rx="3.2" ry="2.5" fill="#000" filter="url(#b05)"/>
<rect x="448.10" y="230.5" width="15.80" height="5.1" rx="3.2" ry="2.5" fill="#000" filter="url(#b05)"/>
<rect x="463.30" y="230.5" width="15.60" height="5.1" rx="3.2" ry="2.5" fill="#000" filter="url(#b05)"/>
<rect x="478.30" y="230.5" width="15.80" height="5.1" rx="3.2" ry="2.5" fill="#000" filter="url(#b05)"/>
<rect x="430.60" y="209.50" width="64.20" height="13.00" stroke="#555" stroke-width="0.9" fill="none"/>
<rect x="430.60" y="226.40" width="64.20" height="12.80" stroke="#555" stroke-width="0.9" fill="none"/>
<text x="427.20" y="219.00" font-size="6.7" font-weight="bold" text-anchor="end" fill="#000">Ferroportin</text>
<text x="427.20" y="233.80" font-size="6.7" font-weight="bold" text-anchor="end" fill="#000">β-actin</text>
<text transform="translate(333.20 207.3) rotate(-43)" font-size="7.6" font-weight="bold">Control</text>
<text transform="translate(348.80 207.3) rotate(-43)" font-size="7.6" font-weight="bold">Hep</text>
<text transform="translate(365.00 207.3) rotate(-43)" font-size="7.6" font-weight="bold">α<tspan font-size="5.2" dx="0.8" dy="1.5">2</tspan><tspan dy="-1.5">-M</tspan></text>
<text transform="translate(381.20 207.3) rotate(-43)" font-size="7.6" font-weight="bold">Hep+ α<tspan font-size="5.2" dx="0.8" dy="1.5">2</tspan><tspan dy="-1.5">-M</tspan></text>
<text transform="translate(438.60 207.3) rotate(-43)" font-size="7.6" font-weight="bold">Control</text>
<text transform="translate(455.00 207.3) rotate(-43)" font-size="7.6" font-weight="bold">Hep</text>
<text transform="translate(471.60 207.3) rotate(-43)" font-size="7.6" font-weight="bold">Alb</text>
<text transform="translate(487.60 207.3) rotate(-43)" font-size="7.6" font-weight="bold">Hep+Alb</text>
<rect x="325.20" y="249.40" width="64.10" height="62.20" stroke="#999" stroke-width="0.9" fill="none"/>
<text class="reg" x="318.60" y="314.10" font-size="7.1" font-weight="normal" text-anchor="end" fill="#222">0%</text>
<line x1="323.70" y1="311.60" x2="325.20" y2="311.60" stroke="#999" stroke-width="0.8"/>
<text class="reg" x="318.60" y="303.73" font-size="7.1" font-weight="normal" text-anchor="end" fill="#222">20%</text>
<line x1="323.70" y1="301.23" x2="325.20" y2="301.23" stroke="#999" stroke-width="0.8"/>
<text class="reg" x="318.60" y="293.37" font-size="7.1" font-weight="normal" text-anchor="end" fill="#222">40%</text>
<line x1="323.70" y1="290.87" x2="325.20" y2="290.87" stroke="#999" stroke-width="0.8"/>
<text class="reg" x="318.60" y="283.00" font-size="7.1" font-weight="normal" text-anchor="end" fill="#222">60%</text>
<line x1="323.70" y1="280.50" x2="325.20" y2="280.50" stroke="#999" stroke-width="0.8"/>
<text class="reg" x="318.60" y="272.63" font-size="7.1" font-weight="normal" text-anchor="end" fill="#222">80%</text>
<line x1="323.70" y1="270.13" x2="325.20" y2="270.13" stroke="#999" stroke-width="0.8"/>
<text class="reg" x="318.60" y="262.27" font-size="7.1" font-weight="normal" text-anchor="end" fill="#222">100%</text>
<line x1="323.70" y1="259.77" x2="325.20" y2="259.77" stroke="#999" stroke-width="0.8"/>
<text class="reg" x="318.60" y="251.90" font-size="7.1" font-weight="normal" text-anchor="end" fill="#222">120%</text>
<line x1="323.70" y1="249.40" x2="325.20" y2="249.40" stroke="#999" stroke-width="0.8"/>
<rect x="329.00" y="259.77" width="7.4" height="51.83" fill="#000"/>
<rect x="345.10" y="268.68" width="7.4" height="42.92" fill="#000"/>
<line x1="348.80" y1="268.68" x2="348.80" y2="258.73" stroke="#000" stroke-width="0.8"/>
<line x1="346.50" y1="258.73" x2="351.10" y2="258.73" stroke="#000" stroke-width="0.8"/>
<rect x="361.50" y="274.95" width="7.4" height="36.65" fill="#000"/>
<line x1="365.20" y1="274.95" x2="365.20" y2="269.62" stroke="#000" stroke-width="0.8"/>
<line x1="362.90" y1="269.62" x2="367.50" y2="269.62" stroke="#000" stroke-width="0.8"/>
<rect x="378.00" y="286.51" width="7.4" height="25.09" fill="#000"/>
<line x1="381.70" y1="286.51" x2="381.70" y2="277.91" stroke="#000" stroke-width="0.8"/>
<line x1="379.40" y1="277.91" x2="384.00" y2="277.91" stroke="#000" stroke-width="0.8"/>
<rect x="431.80" y="248.80" width="64.60" height="63.00" stroke="#999" stroke-width="0.9" fill="none"/>
<text class="reg" x="425.20" y="314.30" font-size="7.1" font-weight="normal" text-anchor="end" fill="#222">0%</text>
<line x1="430.30" y1="311.80" x2="431.80" y2="311.80" stroke="#999" stroke-width="0.8"/>
<text class="reg" x="425.20" y="303.80" font-size="7.1" font-weight="normal" text-anchor="end" fill="#222">20%</text>
<line x1="430.30" y1="301.30" x2="431.80" y2="301.30" stroke="#999" stroke-width="0.8"/>
<text class="reg" x="425.20" y="293.30" font-size="7.1" font-weight="normal" text-anchor="end" fill="#222">40%</text>
<line x1="430.30" y1="290.80" x2="431.80" y2="290.80" stroke="#999" stroke-width="0.8"/>
<text class="reg" x="425.20" y="282.80" font-size="7.1" font-weight="normal" text-anchor="end" fill="#222">60%</text>
<line x1="430.30" y1="280.30" x2="431.80" y2="280.30" stroke="#999" stroke-width="0.8"/>
<text class="reg" x="425.20" y="272.30" font-size="7.1" font-weight="normal" text-anchor="end" fill="#222">80%</text>
<line x1="430.30" y1="269.80" x2="431.80" y2="269.80" stroke="#999" stroke-width="0.8"/>
<text class="reg" x="425.20" y="261.80" font-size="7.1" font-weight="normal" text-anchor="end" fill="#222">100%</text>
<line x1="430.30" y1="259.30" x2="431.80" y2="259.30" stroke="#999" stroke-width="0.8"/>
<text class="reg" x="425.20" y="251.30" font-size="7.1" font-weight="normal" text-anchor="end" fill="#222">120%</text>
<line x1="430.30" y1="248.80" x2="431.80" y2="248.80" stroke="#999" stroke-width="0.8"/>
<rect x="435.10" y="259.30" width="7.4" height="52.50" fill="#000"/>
<rect x="451.40" y="268.23" width="7.4" height="43.57" fill="#000"/>
<line x1="455.10" y1="268.23" x2="455.10" y2="258.25" stroke="#000" stroke-width="0.8"/>
<line x1="452.80" y1="258.25" x2="457.40" y2="258.25" stroke="#000" stroke-width="0.8"/>
<rect x="467.80" y="268.23" width="7.4" height="43.57" fill="#000"/>
<line x1="471.50" y1="268.23" x2="471.50" y2="256.68" stroke="#000" stroke-width="0.8"/>
<line x1="469.20" y1="256.68" x2="473.80" y2="256.68" stroke="#000" stroke-width="0.8"/>
<rect x="484.00" y="268.23" width="7.4" height="43.57" fill="#000"/>
<line x1="487.70" y1="268.23" x2="487.70" y2="258.25" stroke="#000" stroke-width="0.8"/>
<line x1="485.40" y1="258.25" x2="490.00" y2="258.25" stroke="#000" stroke-width="0.8"/>
<text transform="translate(297.4 278) rotate(-90)" font-size="9" font-weight="bold" text-anchor="middle">% control</text>
<text transform="translate(406.3 277.7) rotate(-90)" font-size="9" font-weight="bold" text-anchor="middle">% control</text>
<text transform="translate(337.30 318.4) rotate(-45)" font-size="7.5" font-weight="bold" text-anchor="end">Control</text>
<text transform="translate(352.50 318.4) rotate(-45)" font-size="7.5" font-weight="bold" text-anchor="end">Hep</text>
<text transform="translate(367.70 318.4) rotate(-45)" font-size="7.5" font-weight="bold" text-anchor="end">α<tspan font-size="5.4" dx="0.8" dy="1.5">2</tspan><tspan dy="-1.5">-M</tspan></text>
<text transform="translate(383.70 318.4) rotate(-45)" font-size="7.5" font-weight="bold" text-anchor="end">Hep+ α<tspan font-size="5.4" dx="0.8" dy="1.5">2</tspan><tspan dy="-1.5">-M</tspan></text>
<text transform="translate(442.20 318.4) rotate(-45)" font-size="7.5" font-weight="bold" text-anchor="end">Control</text>
<text transform="translate(457.50 318.4) rotate(-45)" font-size="7.5" font-weight="bold" text-anchor="end">Hep</text>
<text transform="translate(473.90 318.4) rotate(-45)" font-size="7.5" font-weight="bold" text-anchor="end">Alb</text>
<text transform="translate(490.50 318.4) rotate(-45)" font-size="7.5" font-weight="bold" text-anchor="end">Hep+Alb</text>
<text x="365.20" y="269.00" font-size="6.5" font-weight="bold" text-anchor="middle" fill="#000">*</text>
<text x="381.70" y="275.80" font-size="6.5" font-weight="bold" text-anchor="middle" fill="#000">**</text>
<defs><linearGradient id="gm" x1="0" y1="0" x2="0" y2="1"><stop offset="0" stop-color="#000" stop-opacity="0"/><stop offset="0.2" stop-color="#000" stop-opacity="0.06"/><stop offset="0.38" stop-color="#000" stop-opacity="0.18"/><stop offset="0.5" stop-color="#000" stop-opacity="0.45"/><stop offset="0.62" stop-color="#000" stop-opacity="0.72"/><stop offset="0.8" stop-color="#000" stop-opacity="0.82"/><stop offset="0.93" stop-color="#000" stop-opacity="0.82"/><stop offset="1" stop-color="#000" stop-opacity="0.4"/></linearGradient><linearGradient id="ge" x1="0" y1="0" x2="0" y2="1"><stop offset="0" stop-color="#000" stop-opacity="0.0"/><stop offset="0.25" stop-color="#000" stop-opacity="0.18"/><stop offset="0.5" stop-color="#000" stop-opacity="0.3"/><stop offset="1" stop-color="#000" stop-opacity="0.3"/></linearGradient></defs>
<g filter="url(#b07)">
<rect x="463.9" y="72.3" width="12.00" height="20.30" rx="1.5" fill="url(#gm)"/>
<rect x="464.09999999999997" y="73.3" width="1.4" height="18.30" fill="url(#ge)"/>
<rect x="474.29999999999995" y="73.3" width="1.4" height="18.30" fill="url(#ge)"/>
<rect x="479.7" y="76.0" width="12.20" height="18.60" rx="1.5" fill="url(#gm)"/>
<rect x="479.9" y="77.0" width="1.4" height="16.60" fill="url(#ge)"/>
<rect x="490.29999999999995" y="77.0" width="1.4" height="16.60" fill="url(#ge)"/>
</g>
</svg></body></html>
